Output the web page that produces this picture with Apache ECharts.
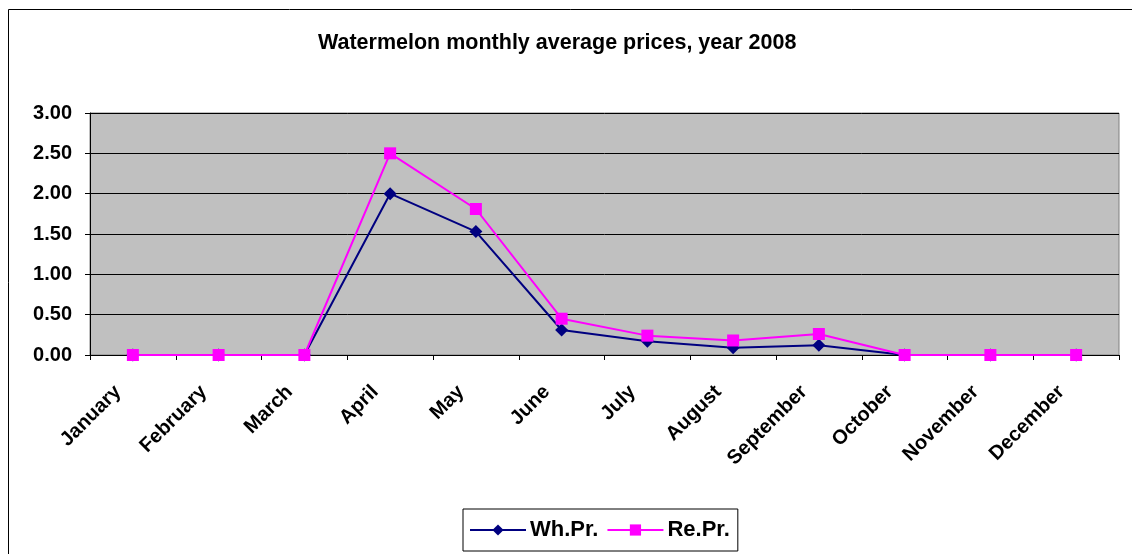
<!DOCTYPE html>
<html>
<head>
<meta charset="utf-8">
<script src="https://cdn.jsdelivr.net/npm/echarts@6/dist/echarts.min.js"></script>
<style>
  html, body { margin: 0; padding: 0; background: #fff; }
  #chart { width: 1132px; height: 554px; }
</style>
</head>
<body>
<div id="chart"></div>
<script>
// chart data
const months = ['January', 'February', 'March', 'April', 'May', 'June',
  'July', 'August', 'September', 'October', 'November', 'December'];
const wholesale = [0, 0, 0, 2.0, 1.53, 0.31, 0.17, 0.09, 0.12, 0, 0, 0];
const retail = [0, 0, 0, 2.5, 1.81, 0.45, 0.24, 0.18, 0.26, 0, 0, 0];

const FONT = '"Liberation Sans", Arial, sans-serif';

const chart = echarts.init(document.getElementById('chart'), null, { renderer: 'canvas' });

chart.setOption({
  animation: false,
  textStyle: { fontFamily: FONT },
  title: {
    text: 'Watermelon monthly average prices, year 2008',
    left: 313, top: 27,
    textStyle: { fontFamily: FONT, fontSize: 21.5, fontWeight: 'bold', color: '#000' }
  },
  graphic: [{
    type: 'rect',
    shape: { x: 8.5, y: 9.5, width: 1140, height: 560 },
    style: { fill: 'none', stroke: '#000', lineWidth: 1 },
    silent: true
  }],
  grid: {
    left: 90, top: 113, right: 13, bottom: 199,
    show: true, backgroundColor: '#C0C0C0', borderColor: '#808080', borderWidth: 1
  },
  legend: {
    left: 463, top: 509,
    padding: [10, 8, 10, 6],
    itemGap: 8,
    itemWidth: 56, itemHeight: 14,
    borderColor: '#000', borderWidth: 1,
    textStyle: { fontFamily: FONT, fontSize: 22, fontWeight: 'bold', color: '#000', padding: [0, 0, 0, -1] },
    data: ['Wh.Pr.', 'Re.Pr.']
  },
  xAxis: {
    type: 'category',
    data: months,
    boundaryGap: true,
    axisLine: { lineStyle: { color: '#000', width: 1 } },
    axisTick: { show: true, length: 5, lineStyle: { color: '#000' } },
    axisLabel: {
      rotate: 45, margin: 19, interval: 0,
      padding: [0, 21, 0, 0],
      fontFamily: FONT, fontSize: 20, fontWeight: 'bold', color: '#000'
    },
    splitLine: { show: false }
  },
  yAxis: {
    type: 'value',
    min: 0, max: 3, interval: 0.5,
    axisLine: { show: true, lineStyle: { color: '#000', width: 1 } },
    axisTick: { show: true, length: 5, lineStyle: { color: '#000' } },
    axisLabel: {
      margin: 18,
      fontFamily: FONT, fontSize: 20, fontWeight: 'bold', color: '#000',
      formatter: v => v.toFixed(2)
    },
    splitLine: { show: true, lineStyle: { color: '#000', width: 1 } }
  },
  series: [
    {
      name: 'Wh.Pr.',
      type: 'line',
      data: wholesale,
      symbol: 'diamond', symbolSize: 13,
      lineStyle: { color: '#000080', width: 2 },
      itemStyle: { color: '#000080' },
      z: 2
    },
    {
      name: 'Re.Pr.',
      type: 'line',
      data: retail,
      symbol: 'rect', symbolSize: 12,
      lineStyle: { color: '#FF00FF', width: 2 },
      itemStyle: { color: '#FF00FF' },
      z: 3
    }
  ]
});
</script>
</body>
</html>
